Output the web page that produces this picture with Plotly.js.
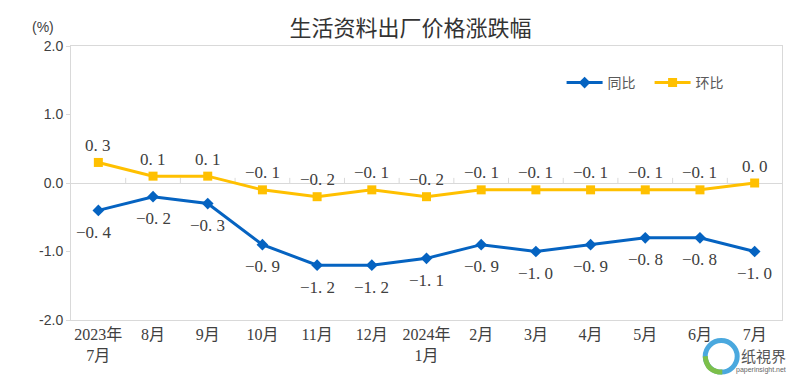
<!DOCTYPE html>
<html>
<head>
<meta charset="utf-8">
<script src="https://cdn.plot.ly/plotly-3.0.1.min.js"></script>
<style>html,body{margin:0;padding:0;background:#fff;}#chart{width:800px;height:375px;}</style>
</head>
<body>
<div id="chart"></div>
<script>
var categories = ["2023年<br>7月","8月","9月","10月","11月","12月","2024年<br>1月","2月","3月","4月","5月","6月","7月"];
var yoyValues = [-0.4,-0.2,-0.3,-0.9,-1.2,-1.2,-1.1,-0.9,-1.0,-0.9,-0.8,-0.8,-1.0];
var momValues = [0.3,0.1,0.1,-0.1,-0.2,-0.1,-0.2,-0.1,-0.1,-0.1,-0.1,-0.1,0.0];
var yTickVals = [-2,-1,0,1,2];
var yTickText = ["-2.0","-1.0","0.0","1.0","2.0"];

function fmt(v){ return v.toFixed(1).replace('-', '\u2212').replace('.', '. '); }

var blue = '#0563C1';
var yellow = '#FFC000';
var labelFont = {family: 'Liberation Serif, Noto Sans CJK SC', size: 17, color: '#404040'};

var traces = [
  {
    type: 'scatter', mode: 'lines+markers', name: '同比',
    x: categories, y: yoyValues,
    line: {color: blue, width: 3}, marker: {symbol: 'diamond', size: 9, color: blue},
    cliponaxis: false, hoverinfo: 'none'
  },
  {
    type: 'scatter', mode: 'lines+markers', name: '环比',
    x: categories, y: momValues,
    line: {color: yellow, width: 3}, marker: {symbol: 'square', size: 9, color: yellow},
    cliponaxis: false, hoverinfo: 'none'
  }
];

var annotations = [];
yoyValues.forEach(function(v, i){
  annotations.push({x: categories[i], y: v, xref: 'x', yref: 'y', text: fmt(v), showarrow: false,
    xanchor: 'center', yanchor: 'middle', yshift: -22, xshift: i === 0 ? -4 : 0, font: labelFont});
});
momValues.forEach(function(v, i){
  annotations.push({x: categories[i], y: v, xref: 'x', yref: 'y', text: fmt(v), showarrow: false,
    xanchor: 'center', yanchor: 'middle', yshift: 17, font: labelFont});
});
annotations.push(
  {text: '(%)', xref: 'paper', yref: 'paper', x: -0.039, y: 1.07, xanchor: 'center', yanchor: 'middle',
   showarrow: false, font: {family: 'Liberation Sans', size: 14, color: '#404040'}},
  {text: '纸視界', xref: 'paper', yref: 'paper', x: 1.008, y: -0.13, xanchor: 'right', yanchor: 'middle',
   showarrow: false, font: {family: 'Noto Sans CJK SC', size: 15, color: '#555'}},
  {text: 'paperinsight.net', xref: 'paper', yref: 'paper', x: 1.008, y: -0.183, xanchor: 'right', yanchor: 'middle',
   showarrow: false, font: {family: 'Liberation Sans', size: 7, color: '#666'}}
);

var shapes = [];
for (var i = 0; i < categories.length - 1; i++) {
  shapes.push({type: 'line', xref: 'x', yref: 'y', x0: i + 0.5, x1: i + 0.5, y0: 0, y1: 0.075,
               line: {color: '#d9d9d9', width: 1}, layer: 'below'});
}
// watermark logo ring
shapes.push({type: 'circle', xref: 'paper', yref: 'paper', x0: 0.892, x1: 0.937, y0: -0.19, y1: -0.075,
             line: {color: '#4aa8de', width: 5}, fillcolor: 'rgba(0,0,0,0)'});
shapes.push({type: 'path', xref: 'paper', yref: 'paper',
             path: 'M 0.892 -0.132 Q 0.894 -0.19 0.916 -0.19', line: {color: '#7cbf4a', width: 5}});

var layout = {
  width: 800, height: 375,
  margin: {l: 71, r: 18, t: 46, b: 55, autoexpand: false},
  paper_bgcolor: '#fff', plot_bgcolor: '#fff',
  title: {text: '生活资料出厂价格涨跌幅', x: 0.513, xanchor: 'center', y: 0.925, yanchor: 'middle',
          font: {family: 'Noto Sans CJK SC', size: 22, color: '#333'}},
  showlegend: true,
  legend: {orientation: 'h', x: 0.69, y: 0.865, xanchor: 'left', yanchor: 'middle',
           font: {family: 'Noto Sans CJK SC', size: 14, color: '#595959'},
           entrywidth: 37, entrywidthmode: 'pixels', itemwidth: 36, bgcolor: 'rgba(0,0,0,0)'},
  xaxis: {type: 'category', range: [-0.5, 12.5], showgrid: false, zeroline: false,
          showline: true, mirror: true, linecolor: '#d9d9d9', linewidth: 1,
          ticks: '', tickfont: {family: 'Liberation Serif, Noto Sans CJK SC', size: 16, color: '#404040'},
          fixedrange: true},
  yaxis: {range: [-2, 2], tickvals: yTickVals, ticktext: yTickText, showgrid: false,
          zeroline: true, zerolinecolor: '#d9d9d9', zerolinewidth: 1,
          showline: true, mirror: true, linecolor: '#d9d9d9', linewidth: 1,
          ticks: 'outside', ticklen: 4, tickcolor: '#d9d9d9',
          tickfont: {family: 'Liberation Sans', size: 14, color: '#404040'}, fixedrange: true},
  shapes: shapes,
  annotations: annotations
};

Plotly.newPlot('chart', traces, layout, {displayModeBar: false, staticPlot: true});
</script>
</body>
</html>
